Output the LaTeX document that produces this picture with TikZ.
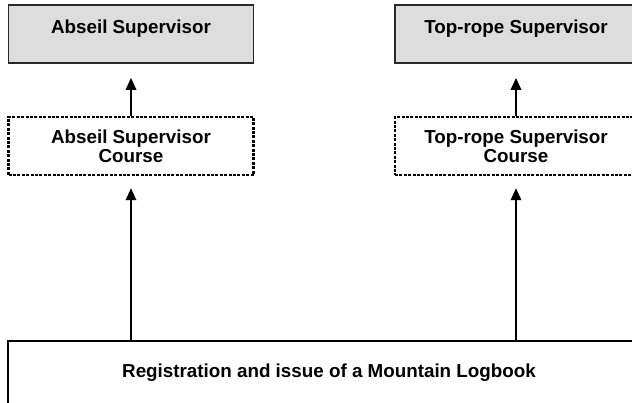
\documentclass[tikz,border=0pt]{standalone}
\usepackage{fontspec}
\setmainfont{Liberation Sans}
\usetikzlibrary{arrows.meta}
\definecolor{boxgray}{RGB}{221,221,221}
\definecolor{edgegray}{RGB}{40,40,40}
\tikzset{
  lbl/.style={font=\bfseries\fontsize{18.8}{19}\selectfont, align=center, inner sep=0pt},
  rolebox/.style={lbl, draw=edgegray, line width=1.8pt, fill=boxgray, minimum height=58pt, text height=13.5pt, text depth=14.5pt},
  coursebox/.style={lbl, draw=black, line width=2.4pt, dash pattern=on 3pt off 1.4pt, fill=white, minimum height=58pt},
  basebox/.style={lbl, draw=black, line width=1.8pt, fill=white, minimum width=642pt, minimum height=64pt, text height=13.5pt, text depth=4pt},
  arr/.style={line width=1.8pt, -{Triangle[length=12pt,width=10.5pt]}}
}
\begin{document}
\begin{tikzpicture}[x=1pt,y=-1pt]
\clip (0,0) rectangle (632,402);
\fill[white] (0,0) rectangle (632,402);
\node[rolebox, minimum width=245pt] (as) at (131,34) {Abseil Supervisor};
\node[rolebox, minimum width=242pt] (ts) at (516,34) {Top-rope Supervisor};
\node[coursebox, minimum width=245pt] (ac) at (131,146) {Abseil Supervisor\\Course};
\node[coursebox, minimum width=242pt] (tc) at (516,146) {Top-rope Supervisor\\Course};
\node[basebox] (reg) at (329,373) {Registration and issue of a Mountain Logbook};
\draw[arr, shorten >=14pt] (ac.north) -- (as.south);
\draw[arr, shorten >=14pt] (tc.north) -- (ts.south);
\draw[arr, shorten >=12pt] (ac.south |- reg.north) -- (ac.south);
\draw[arr, shorten >=12pt] (tc.south |- reg.north) -- (tc.south);
\end{tikzpicture}
\end{document}
